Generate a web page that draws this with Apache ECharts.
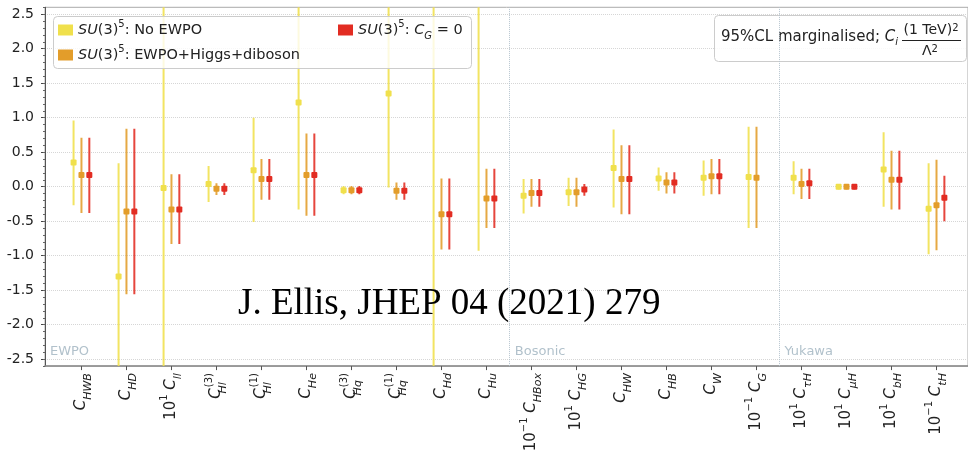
<!DOCTYPE html>
<html><head><meta charset="utf-8">
<script src="https://cdn.jsdelivr.net/npm/echarts@6/dist/echarts.min.js"></script>
<style>html,body{margin:0;padding:0;background:#fff}#c{width:968px;height:456px}</style>
</head><body><div id="c"></div>
<script>
// ---- data ----
const coeffSub = ['HWB','HD','ll','Hl','Hl','He','Hq','Hq','Hd','Hu','HBox','HG','HW','HB','W','G','τH','μH','bH','tH'];
const coeffSup = ['','','','(3)','(1)','','(3)','(1)','','','','','','','','','','','',''];
const coeffScaleExp = ['','','1','','','','','','','','−1','1','','','','−1','1','1','1','−1'];
const categoryIndex = coeffSub.map((_, i) => i);

const seriesNames = ['SU(3)5: No EWPO', 'SU(3)5: EWPO+Higgs+diboson', 'SU(3)5: CG=0'];

const yellowCenter = [0.35, -1.30, -0.02, 0.04, 0.24, 1.22, -0.05, 1.35, 3.5, 3.0, -0.13, -0.08, 0.27, 0.12, 0.13, 0.14, 0.13, 0.00, 0.25, -0.32];
const yellowLow    = [-0.27, -3.5, -4.0, -0.22, -0.51, -0.33, -0.11, -0.01, -5.0, -0.93, -0.39, -0.28, -0.30, -0.06, -0.13, -0.60, -0.11, -0.04, -0.29, -0.98];
const yellowHigh   = [0.96, 0.34, 4.0, 0.30, 1.00, 3.5, 0.01, 4.0, 8.0, 6.0, 0.11, 0.13, 0.83, 0.28, 0.38, 0.87, 0.37, 0.04, 0.79, 0.34];

const orangeCenter = [0.17, -0.36, -0.33, -0.03, 0.11, 0.17, -0.05, -0.06, -0.40, -0.17, -0.09, -0.08, 0.11, 0.06, 0.15, 0.13, 0.04, 0.00, 0.10, -0.27];
const orangeLow    = [-0.38, -1.56, -0.83, -0.12, -0.19, -0.42, -0.11, -0.19, -0.91, -0.60, -0.29, -0.29, -0.40, -0.10, -0.11, -0.60, -0.18, -0.04, -0.33, -0.92];
const orangeHigh   = [0.71, 0.84, 0.18, 0.05, 0.40, 0.77, 0.01, 0.06, 0.12, 0.26, 0.11, 0.13, 0.60, 0.21, 0.40, 0.87, 0.26, 0.04, 0.52, 0.39];

const redCenter = [0.17, -0.36, -0.33, -0.03, 0.11, 0.17, -0.05, -0.06, -0.40, -0.17, -0.09, -0.04, 0.11, 0.06, 0.15, null, 0.05, 0.00, 0.10, -0.16];
const redLow    = [-0.38, -1.56, -0.83, -0.12, -0.19, -0.42, -0.11, -0.19, -0.91, -0.60, -0.29, -0.13, -0.40, -0.10, -0.11, null, -0.18, -0.04, -0.33, -0.50];
const redHigh   = [0.71, 0.84, 0.18, 0.05, 0.40, 0.77, 0.01, 0.06, 0.12, 0.26, 0.11, 0.04, 0.60, 0.21, 0.40, null, 0.26, 0.04, 0.52, 0.16];

const yTicks = [-2.5, -2.0, -1.5, -1.0, -0.5, 0.0, 0.5, 1.0, 1.5, 2.0, 2.5];
const yTickLabels = ['-2.5', '-2.0', '-1.5', '-1.0', '-0.5', '0.0', '0.5', '1.0', '1.5', '2.0', '2.5'];

const sectionNames = ['EWPO', 'Bosonic', 'Yukawa'];
const sectionLabelX = [-0.70, 9.63, 15.62];
const sectionLabelY = -2.39;
const sectionDividers = [9.5, 15.5];

// ---- styling ----
const COLORS = ['#f0e04c', '#e39d2a', '#e22c22'];
const OFFSETS = [-0.175, 0, 0.175];
const FONT = 'DejaVu Sans';

function coeffLabel(i) {
  let s = '';
  if (coeffScaleExp[i]) s += '{n|10}{e|' + coeffScaleExp[i] + '}{n| }';
  s += '{c|C}';
  if (coeffSup[i]) s += '{sw|' + coeffSub[i] + '}{sup|' + coeffSup[i] + '}';
  else s += '{sub|' + coeffSub[i] + '}';
  return s;
}

function makeErrSeries(k, center, low, high) {
  const data = [];
  center.forEach((c, i) => {
    if (c === null) return;
    data.push([i + OFFSETS[k], c, low[i], high[i]]);
  });
  const color = COLORS[k];
  return {
    type: 'custom',
    name: seriesNames[k],
    clip: true,
    z: 2 + k,
    itemStyle: { color: color },
    encode: { x: 0, y: 1 },
    data: data,
    renderItem: function (params, api) {
      const x = api.value(0);
      const pLo = api.coord([x, api.value(2)]);
      const pHi = api.coord([x, api.value(3)]);
      const pC = api.coord([x, api.value(1)]);
      return {
        type: 'group',
        children: [
          { type: 'line', shape: { x1: pLo[0], y1: pLo[1], x2: pHi[0], y2: pHi[1] },
            style: { stroke: color, lineWidth: 2, opacity: 0.88 } },
          { type: 'rect', shape: { x: pC[0] - 3, y: pC[1] - 3, width: 6, height: 6, r: 1 },
            style: { fill: color } }
        ]
      };
    }
  };
}

const legendRich = {
  it: { fontStyle: 'italic', fontSize: 14.5, fontFamily: FONT, color: '#222' },
  t: { fontSize: 14.5, fontFamily: FONT, color: '#222' },
  sp: { fontSize: 10, fontFamily: FONT, color: '#222', verticalAlign: 'top', lineHeight: 10 },
  sb: { fontSize: 10, fontStyle: 'italic', fontFamily: FONT, color: '#222', verticalAlign: 'bottom', lineHeight: 10 }
};
const legendText = {};
legendText[seriesNames[0]] = '{it|SU}{t|(3)}{sp|5}{t|: No EWPO}';
legendText[seriesNames[1]] = '{it|SU}{t|(3)}{sp|5}{t|: EWPO+Higgs+diboson}';
legendText[seriesNames[2]] = '{it|SU}{t|(3)}{sp|5}{t|: }{it|C}{sb|G}{t| = 0}';

function mkLegend(name, left, top) {
  return {
    data: [name], left: left, top: top, orient: 'horizontal',
    icon: 'rect', itemWidth: 15, itemHeight: 11, itemGap: 8, padding: 0,
    selectedMode: false,
    formatter: n => legendText[n],
    textStyle: { rich: legendRich, fontSize: 14.5, fontFamily: FONT, color: '#222', lineHeight: 22 }
  };
}

const xRich = {
  c: { fontSize: 15, fontStyle: 'italic', fontFamily: FONT, color: '#222', lineHeight: 24 },
  sub: { fontSize: 11, fontStyle: 'italic', fontFamily: FONT, color: '#222', lineHeight: 12, verticalAlign: 'bottom' },
  sw: { fontSize: 11, fontStyle: 'italic', fontFamily: FONT, color: '#222', lineHeight: 12, verticalAlign: 'bottom', width: 1, align: 'left' },
  sup: { fontSize: 10, fontFamily: FONT, color: '#222', lineHeight: 12, verticalAlign: 'top' },
  n: { fontSize: 15, fontFamily: FONT, color: '#222', lineHeight: 24 },
  e: { fontSize: 10, fontFamily: FONT, color: '#222', lineHeight: 12, verticalAlign: 'top' }
};

const chart = echarts.init(document.getElementById('c'), null, { renderer: 'canvas' });
const option = {
  animation: false,
  backgroundColor: '#fff',
  grid: { left: 45, top: 7.3, width: 926.4, height: 358.8, show: true, borderColor: '#aaa', borderWidth: 1, backgroundColor: 'transparent' },
  legend: [
    mkLegend(seriesNames[0], 58, 19),
    mkLegend(seriesNames[1], 58, 44),
    mkLegend(seriesNames[2], 338, 19)
  ],
  xAxis: {
    type: 'value', min: -0.81, max: 19.7,
    axisLine: { show: true, onZero: false, lineStyle: { color: '#888', width: 1.5 } },
    axisTick: { show: true, customValues: categoryIndex, length: 4, lineStyle: { color: '#555' } },
    axisLabel: { customValues: categoryIndex, rotate: 90, margin: 7, formatter: v => coeffLabel(Math.round(v)), rich: xRich, fontFamily: FONT, fontSize: 15, color: '#222' },
    splitLine: { show: false }
  },
  yAxis: [{
    type: 'value', min: -2.6, max: 2.6, position: 'left',
    axisLine: { show: true, onZero: false, lineStyle: { color: '#555', width: 1 } },
    axisTick: { show: true, customValues: yTicks, length: 4, lineStyle: { color: '#444' } },
    axisLabel: { customValues: yTicks, margin: 11, fontSize: 14, fontFamily: FONT, color: '#222',
      formatter: v => { const i = yTicks.findIndex(t => Math.abs(t - v) < 1e-6); return i >= 0 ? yTickLabels[i] : ''; } },
    splitLine: { show: true, lineStyle: { type: 'dotted', color: '#d6d6d6', width: 1 } }
  }, {
    type: 'value', min: -2.6, max: 2.6, interval: 0.1, position: 'left', offset: 0,
    axisLine: { show: false, onZero: false },
    axisTick: { show: true, length: 2, lineStyle: { color: '#666' } },
    axisLabel: { show: false },
    splitLine: { show: false }
  }],
  series: [
    makeErrSeries(0, yellowCenter, yellowLow, yellowHigh),
    makeErrSeries(1, orangeCenter, orangeLow, orangeHigh),
    makeErrSeries(2, redCenter, redLow, redHigh),
    {
      type: 'scatter', name: 'sections', silent: true, symbolSize: 0, z: 1,
      data: sectionNames.map((n, i) => ({ value: [sectionLabelX[i], sectionLabelY], name: n })),
      label: { show: true, position: 'right', distance: 0, formatter: p => p.name, fontSize: 13, fontFamily: FONT, color: '#9db1be' },
      markLine: {
        silent: true, symbol: 'none', label: { show: false },
        lineStyle: { type: 'dotted', color: '#b7c5cf', width: 1 },
        data: sectionDividers.map(x => ({ xAxis: x }))
      }
    }
  ],
  graphic: [
    { type: 'rect', z: 3, shape: { x: 53.5, y: 16.5, width: 418, height: 52, r: 4 },
      style: { fill: 'rgba(255,255,255,0.8)', stroke: '#cccccc', lineWidth: 1 } },
    { type: 'rect', z: 3, shape: { x: 714.5, y: 15.5, width: 252, height: 46, r: 4 },
      style: { fill: 'rgba(255,255,255,0.85)', stroke: '#cccccc', lineWidth: 1 } },
    { type: 'text', z: 5, left: 721, top: 30,
      style: { text: '95%CL marginalised; {c|C}{s|i}', fontSize: 15, fontFamily: FONT, fill: '#222',
        rich: { c: { fontSize: 15, fontStyle: 'italic', fontFamily: FONT, fill: '#222', lineHeight: 20 },
                s: { fontSize: 10, fontStyle: 'italic', fontFamily: FONT, fill: '#222', lineHeight: 10, verticalAlign: 'bottom' } } } },
    { type: 'text', z: 5, x: 931, y: 30,
      style: { text: '(1 TeV){p|2}', fontSize: 14, fontFamily: FONT, fill: '#222', align: 'center', verticalAlign: 'middle',
        rich: { p: { fontSize: 10, fontFamily: FONT, fill: '#222', lineHeight: 10, verticalAlign: 'top' } } } },
    { type: 'line', z: 5, shape: { x1: 902, y1: 40.5, x2: 961, y2: 40.5 }, style: { stroke: '#222', lineWidth: 1 } },
    { type: 'text', z: 5, x: 930, y: 51,
      style: { text: 'Λ{p|2}', fontSize: 14, fontFamily: FONT, fill: '#222', align: 'center', verticalAlign: 'middle',
        rich: { p: { fontSize: 10, fontFamily: FONT, fill: '#222', lineHeight: 10, verticalAlign: 'top' } } } },
    { type: 'text', z: 6, x: 238, y: 304,
      style: { text: 'J. Ellis, JHEP 04 (2021) 279', fontSize: 37, fontFamily: 'Liberation Serif', fill: '#000', verticalAlign: 'middle' } }
  ]
};
chart.setOption(option);
</script>
</body></html>
